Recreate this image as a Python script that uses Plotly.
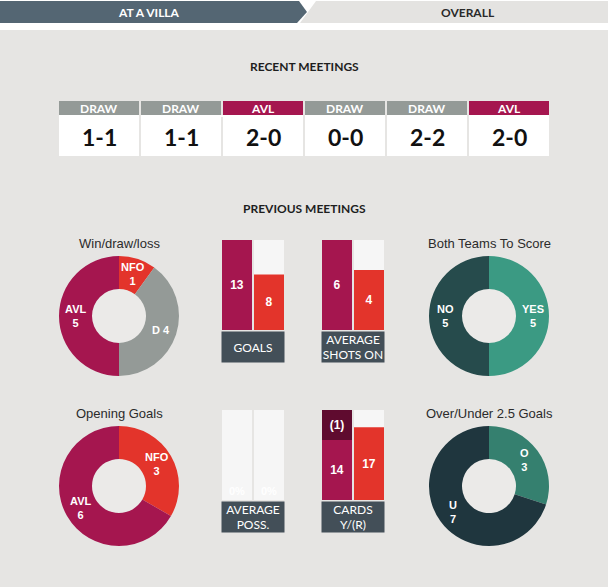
import math
import plotly.graph_objects as go

W, H = 609, 587


def X(p):
    return p / W


def Y(p):
    return 1 - p / H


# ---------------- data ----------------
tabs = ["AT A VILLA", "OVERALL"]

recent_results = ["DRAW", "DRAW", "AVL", "DRAW", "DRAW", "AVL"]
recent_scores = ["1-1", "1-1", "2-0", "0-0", "2-2", "2-0"]

wdl_labels = ["NFO", "D", "AVL"]
wdl_values = [1, 4, 5]
wdl_sep = ["<br>", " ", "<br>"]

og_labels = ["NFO", "AVL"]
og_values = [3, 6]

btts_labels = ["YES", "NO"]
btts_values = [5, 5]

ou_labels = ["O", "U"]
ou_values = [3, 7]

teams = ["AVL", "NFO"]
goals = [13, 8]
shots = [6, 4]
poss = [0, 0]
cards_yellow = [14, 17]
cards_red = [1, 0]

# ---------------- styles ----------------
BG = "#e6e5e3"
AVL_C = "#a5164f"
NFO_C = "#e3342b"
DRAW_C = "#949a97"
BAR_BG = "#f6f6f6"
BOX_C = "#434f58"
RED_CARD_C = "#5f0b2f"
team_colors = [AVL_C, NFO_C]
result_colors = {"DRAW": DRAW_C, "AVL": AVL_C, "NFO": NFO_C}

F_HEAD = "Lato"
F_BODY = "Liberation Sans"

fig = go.Figure()
annotations = []


def pa(text, px, py, size, color, family, weight="normal"):
    annotations.append(dict(x=X(px), y=Y(py), xref="paper", yref="paper", text=text, showarrow=False,
                            xanchor="center", yanchor="middle",
                            font=dict(family=family, size=size, color=color, weight=weight)))


# ---------------- recent meetings (bars on index axis) ----------------
idx = list(range(len(recent_results)))
fig.add_trace(go.Bar(x=idx, y=[1] * len(idx), width=80 / 82,
                     marker=dict(color=[result_colors[r] for r in recent_results], line_width=0),
                     xaxis="x", yaxis="y", hoverinfo="skip", showlegend=False))
fig.add_trace(go.Bar(x=idx, y=[1] * len(idx), width=80 / 82,
                     marker=dict(color="white", line_width=0),
                     xaxis="x2", yaxis="y2", hoverinfo="skip", showlegend=False))

for i, (r, s) in enumerate(zip(recent_results, recent_scores)):
    annotations.append(dict(x=i, y=0.5, xref="x", yref="y", text=r, showarrow=False,
                            xanchor="center", yanchor="middle",
                            font=dict(family=F_HEAD, size=12, color="white", weight="bold")))
    annotations.append(dict(x=i, y=0.47, xref="x2", yref="y2", text=s, showarrow=False,
                            xanchor="center", yanchor="middle",
                            font=dict(family=F_HEAD, size=23, color="#111111", weight="bold")))

# ---------------- small bar panels ----------------
panels = [
    ("x3", "y3", goals, None, max(goals), "GOALS"),
    ("x4", "y4", shots, None, max(shots), "AVERAGE<br>SHOTS ON"),
    ("x5", "y5", poss, None, 1, "AVERAGE<br>POSS."),
    ("x6", "y6", cards_yellow, cards_red, 21, "CARDS<br>Y/(R)"),
]
BW = 30 / 32
for xa, ya, vals, reds, top, label in panels:
    fig.add_trace(go.Bar(x=[0, 1], y=[top, top], width=BW, marker=dict(color=BAR_BG, line_width=0),
                         xaxis=xa, yaxis=ya, hoverinfo="skip", showlegend=False))
    if xa == "x5":
        for i, v in enumerate(vals):
            annotations.append(dict(x=i, y=0, xref=xa, yref=ya, text=f"{v}%", showarrow=False,
                                    xanchor="center", yanchor="bottom", yshift=1,
                                    font=dict(family=F_BODY, size=11, color="white", weight="bold")))
        continue
    fig.add_trace(go.Bar(x=[0, 1], y=vals, width=BW, marker=dict(color=team_colors, line_width=0),
                         text=[str(v) for v in vals], textposition="inside", insidetextanchor="middle",
                         textangle=0,
                         textfont=dict(family=F_BODY, size=12, color="white", weight="bold"),
                         xaxis=xa, yaxis=ya, hoverinfo="skip", showlegend=False))
    if reds is not None:
        rx = [i for i, r in enumerate(reds) if r > 0]
        fig.add_trace(go.Bar(x=rx, y=[top - vals[i] for i in rx], base=[vals[i] for i in rx],
                             width=BW, marker=dict(color=RED_CARD_C, line_width=0),
                             text=[f"({reds[i]})" for i in rx], textposition="inside",
                             insidetextanchor="middle", textangle=0,
                             textfont=dict(family=F_BODY, size=12, color="white", weight="bold"),
                             xaxis=xa, yaxis=ya, hoverinfo="skip", showlegend=False))

# ---------------- pies ----------------
R_OUT = 60
HOLE = 0.45
R_TXT = 44


def pie(labels, values, colors, texts, cx, cy):
    fig.add_trace(go.Pie(labels=labels, values=values, textinfo="none",
                         hole=HOLE, sort=False, direction="clockwise", rotation=0,
                         marker=dict(colors=colors, line=dict(width=0)),
                         domain=dict(x=[X(cx - R_OUT), X(cx + R_OUT)], y=[Y(cy + R_OUT), Y(cy - R_OUT)]),
                         hoverinfo="skip", showlegend=False))
    total = sum(values)
    cum = 0
    for t, v in zip(texts, values):
        mid = (cum + v / 2) / total * 2 * math.pi
        cum += v
        pa(t, cx + R_TXT * math.sin(mid), cy - R_TXT * math.cos(mid), 11, "white", F_BODY, "bold")


pie(wdl_labels, wdl_values, [NFO_C, DRAW_C, AVL_C],
    [f"{l}{s}{v}" for l, s, v in zip(wdl_labels, wdl_sep, wdl_values)], 119, 316)
pie(og_labels, og_values, [NFO_C, AVL_C],
    [f"{l}<br>{v}" for l, v in zip(og_labels, og_values)], 119, 486)
pie(btts_labels, btts_values, ["#3b9a83", "#264b4c"],
    [f"{l}<br>{v}" for l, v in zip(btts_labels, btts_values)], 489, 316)
pie(ou_labels, ou_values, ["#35806f", "#1f363e"],
    [f"{l}<br>{v}" for l, v in zip(ou_labels, ou_values)], 489, 486)

# ---------------- titles ----------------
for txt, px, py in [("Win/draw/loss", 119, 243), ("Both Teams To Score", 489, 243),
                    ("Opening Goals", 119, 413), ("Over/Under 2.5 Goals", 489, 413)]:
    pa(txt, px, py, 13, "#2b2b2b", F_BODY)

pa("RECENT MEETINGS", 304, 67, 12, "#1e1e1e", F_HEAD, "bold")
pa("PREVIOUS MEETINGS", 304, 208, 12, "#1e1e1e", F_HEAD, "bold")
pa(tabs[0], 149, 12, 12, "white", F_HEAD, "bold")
pa(tabs[1], 468, 12, 12, "#2a2a2a", F_HEAD, "bold")

# label boxes under the bar panels (added last so they sit on top)
for label, cx, cy in zip([p[5] for p in panels], [253, 353, 253, 353], [347, 347, 517, 517]):
    annotations.append(dict(x=X(cx), y=Y(cy), xref="paper", yref="paper", text=label, showarrow=False,
                            xanchor="center", yanchor="middle", width=62, height=30, borderpad=0,
                            bgcolor=BOX_C, font=dict(family=F_HEAD, size=12, color="white")))

# ---------------- shapes (page background, tabs, donut holes) ----------------
def path(pts):
    return "M " + " L ".join(f"{X(a)},{Y(b)}" for a, b in pts) + " Z"


shapes = [
    dict(type="rect", xref="paper", yref="paper", x0=0, x1=X(608), y0=0, y1=Y(30),
         fillcolor=BG, line_width=0, layer="below"),
    dict(type="path", xref="paper", yref="paper",
         path=path([(0, 1), (299, 1), (307, 12), (297, 23), (0, 23)]),
         fillcolor="#546673", line_width=0, layer="below"),
    dict(type="path", xref="paper", yref="paper",
         path=path([(316, 1), (608, 1), (608, 23), (300, 23)]),
         fillcolor="#e4e3e1", line_width=0, layer="below"),
]
for cx, cy in [(119, 316), (119, 486), (489, 316), (489, 486)]:
    r = R_OUT * HOLE
    shapes.append(dict(type="circle", xref="paper", yref="paper",
                       x0=X(cx - r), x1=X(cx + r), y0=Y(cy + r), y1=Y(cy - r),
                       fillcolor="#ebeae8", line_width=0, layer="below"))

# ---------------- axes ----------------
layout_axes = {}
hidden = dict(visible=False, fixedrange=True)
layout_axes["xaxis"] = dict(hidden, domain=[X(58), X(550)], range=[-0.5, 5.5])
layout_axes["yaxis"] = dict(hidden, domain=[Y(115), Y(101)], range=[0, 1])
layout_axes["xaxis2"] = dict(hidden, domain=[X(58), X(550)], range=[-0.5, 5.5])
layout_axes["yaxis2"] = dict(hidden, domain=[Y(156), Y(115)], range=[0, 1])

bar_boxes = {"3": (221, 285, 330, 240), "4": (321, 385, 330, 240),
             "5": (221, 285, 500, 410), "6": (321, 385, 500, 410)}
for (n, (x0, x1, yb, yt)), p in zip(bar_boxes.items(), panels):
    layout_axes["xaxis" + n] = dict(domain=[X(x0), X(x1)], range=[-0.5, 1.5], showline=True,
                                    linecolor="white", linewidth=2, showticklabels=False,
                                    showgrid=False, zeroline=False, ticks="", fixedrange=True)
    layout_axes["yaxis" + n] = dict(hidden, domain=[Y(yb), Y(yt)], range=[0, p[4]])

fig.update_layout(
    width=W, height=H, margin=dict(l=0, r=0, t=0, b=0),
    paper_bgcolor="white", plot_bgcolor="rgba(0,0,0,0)",
    barmode="overlay", showlegend=False,
    uniformtext=dict(minsize=11, mode="show"),
    annotations=annotations, shapes=shapes,
    **layout_axes,
)

fig.write_html("out.html")
